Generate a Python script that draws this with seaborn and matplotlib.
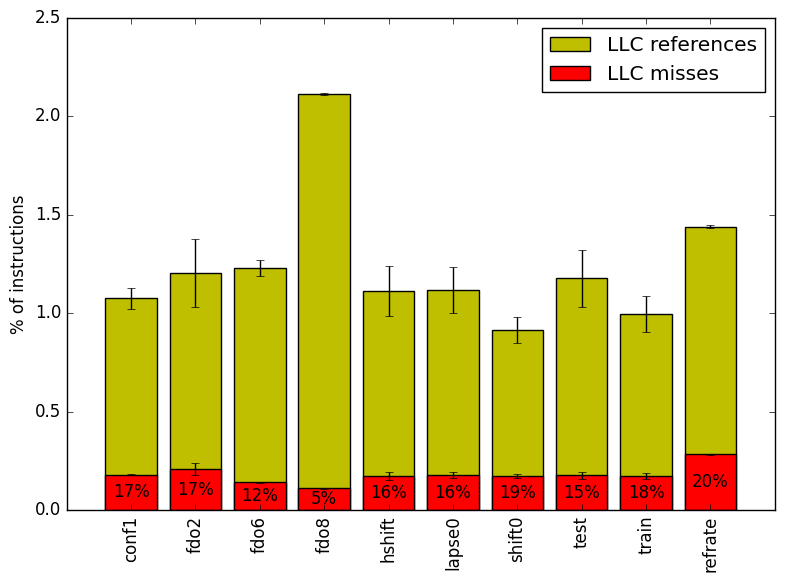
import numpy as np
import pandas as pd
import matplotlib
matplotlib.use('Agg')
import matplotlib.pyplot as plt
import seaborn as sns

# values (% of instructions)
benchmarks = ['conf1', 'fdo2', 'fdo6', 'fdo8', 'hshift', 'lapse0', 'shift0', 'test', 'train', 'refrate']
llc_refs = [1.077, 1.204, 1.229, 2.114, 1.113, 1.118, 0.913, 1.177, 0.996, 1.441]
llc_refs_err = [0.053, 0.173, 0.040, 0.005, 0.125, 0.115, 0.066, 0.147, 0.092, 0.008]
llc_misses = [0.181, 0.208, 0.141, 0.110, 0.173, 0.178, 0.173, 0.178, 0.173, 0.283]
llc_misses_err = [0.005, 0.030, 0.003, 0.002, 0.020, 0.015, 0.010, 0.018, 0.017, 0.003]
miss_pct = ['17%', '17%', '12%', '5%', '16%', '16%', '19%', '15%', '18%', '20%']

df = pd.DataFrame({'bench': benchmarks, 'refs': llc_refs, 'misses': llc_misses})

plt.style.use('classic')
plt.rcParams['font.family'] = ['DejaVu Sans']
plt.rcParams['font.size'] = 12

fig, ax = plt.subplots(figsize=(7.85, 5.83), dpi=100)
fig.patch.set_facecolor('white')

sns.barplot(data=df, x='bench', y='refs', color='y', saturation=1, width=0.8,
            edgecolor='black', linewidth=1, label='LLC references', ax=ax)
sns.barplot(data=df, x='bench', y='misses', color='r', saturation=1, width=0.8,
            edgecolor='black', linewidth=1, label='LLC misses', ax=ax)

x = np.arange(len(benchmarks))
ax.errorbar(x, llc_refs, yerr=llc_refs_err, fmt='none', ecolor='black', capsize=3, elinewidth=1)
ax.errorbar(x, llc_misses, yerr=llc_misses_err, fmt='none', ecolor='black', capsize=3, elinewidth=1)

# percentage of references that miss, centred in the red bar
for xi, m, lab in zip(x, llc_misses, miss_pct):
    ax.text(xi, m / 2, lab, ha='center', va='center', fontsize=12)

ax.set_xlim(-1, len(benchmarks))
ax.set_ylim(0, 2.5)
ax.set_xlabel('')
ax.set_ylabel('% of instructions')
ax.set_xticks(x)
ax.set_xticklabels(benchmarks, rotation=90)
ax.legend(loc='upper right', fontsize=14.5)

plt.subplots_adjust(left=0.085, right=0.987, top=0.969, bottom=0.125)
plt.savefig('out.png', dpi=100, facecolor='white')
